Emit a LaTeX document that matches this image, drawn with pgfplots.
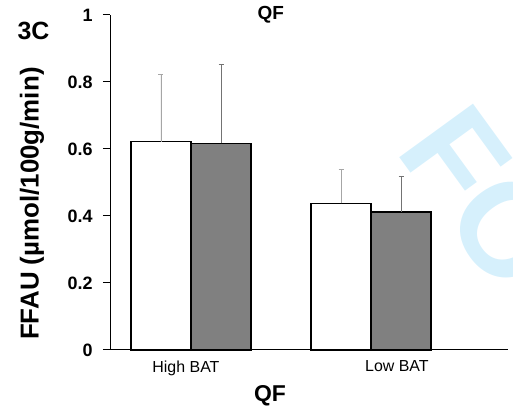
\documentclass[border=0pt]{standalone}
\usepackage{pgfplots}
\pgfplotsset{compat=1.18}
\usepackage{fontspec}
\setmainfont{Liberation Sans}
\definecolor{wm}{RGB}{214,240,252}
\definecolor{bargray}{RGB}{128,128,128}
\begin{document}
\begin{tikzpicture}
% watermark
\node[font=\bfseries\fontsize{133}{133}\selectfont, text=wm, inner sep=0pt, anchor=base west, rotate=-54] at (394bp,262bp) {FO};
\begin{axis}[
  scale only axis,
  width=398bp, height=335bp,
  at={(110bp,62bp)}, anchor=south west,
  xmin=-0.45, xmax=1.761,
  ymin=0, ymax=1,
  axis x line=bottom, axis y line=left,
  axis line style={-, line width=1bp, black},
  ytick={0,0.2,0.4,0.6,0.8,1},
  yticklabels={0,0.2,0.4,0.6,0.8,1},
  tick align=outside,
  major tick length=7bp,
  ytick style={line width=1bp, black},
  yticklabel style={font=\bfseries\fontsize{18}{18}\selectfont, xshift=-7bp},
  xtick={-0.028,1.144},
  xticklabels={High BAT, Low BAT},
  xtick style={draw=none},
  xticklabel style={font=\fontsize{16}{16}\selectfont},
  xlabel={QF},
  xlabel style={font=\bfseries\fontsize{23}{23}\selectfont, at={(axis description cs:0.402,-0.137)}, anchor=center},
  ylabel={FFAU (µmol/100g/min)},
  ylabel style={font=\bfseries\fontsize{26}{26}\selectfont, at={(axis description cs:-0.196,0.437)}, anchor=center},
  title={QF},
  title style={font=\bfseries\fontsize{19}{19}\selectfont, at={(axis description cs:0.404,0.983)}, anchor=center},
  ybar, bar width=0.3333,
  clip=false,
]
\addplot[ybar, bar shift=-0.1667, fill=white, draw=black, line width=1.2bp,
  error bars/.cd, y dir=plus, y explicit,
  error bar style={line width=0.8bp, color=black!35, solid},
  error mark options={rotate=90, mark size=2.5bp, line width=0.8bp, color=black!35}]
  table[x=x, y=y, y error=e] {
x y e
0 0.622 0.202
1 0.438 0.102
};
\addplot[ybar, bar shift=0.1667, fill=bargray, draw=black, line width=1.2bp,
  error bars/.cd, y dir=plus, y explicit,
  error bar style={line width=0.8bp, color=black!55, solid},
  error mark options={rotate=90, mark size=2.5bp, line width=0.8bp, color=black!55}]
  table[x=x, y=y, y error=e] {
x y e
0 0.617 0.236
1 0.412 0.106
};
\end{axis}
\node[font=\bfseries\fontsize{25}{25}\selectfont, inner sep=0pt] at (33.5bp,381bp) {3C};
\pgfresetboundingbox
\useasboundingbox (0,0) rectangle (513bp,412bp);
\end{tikzpicture}
\end{document}
